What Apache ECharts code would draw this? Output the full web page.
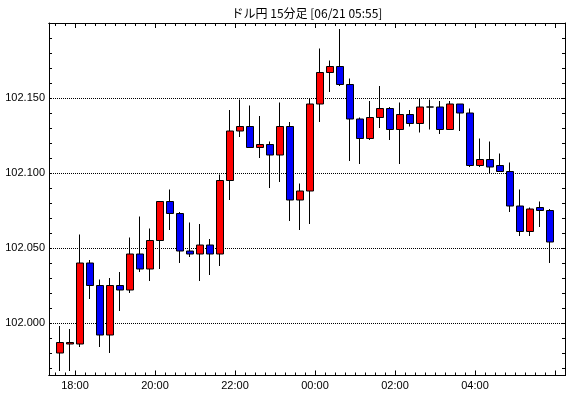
<!DOCTYPE html>
<html>
<head>
<meta charset="utf-8">
<script src="https://cdn.jsdelivr.net/npm/echarts@6/dist/echarts.min.js"></script>
<style>
html, body { margin: 0; padding: 0; background: #fff; }
#chart { width: 570px; height: 398px; }
</style>
</head>
<body>
<div id="chart"></div>
<script>
// 15分足 (06/20 17:30 〜 06/21 05:45)
const times = ['17:30','17:45','18:00','18:15','18:30','18:45','19:00','19:15','19:30','19:45',
    '20:00','20:15','20:30','20:45','21:00','21:15','21:30','21:45','22:00','22:15',
    '22:30','22:45','23:00','23:15','23:30','23:45','00:00','00:15','00:30','00:45',
    '01:00','01:15','01:30','01:45','02:00','02:15','02:30','02:45','03:00','03:15',
    '03:30','03:45','04:00','04:15','04:30','04:45','05:00','05:15','05:30','05:45'];
const opens = [101.980,101.986,101.986,102.040,102.025,101.992,102.025,102.022,102.046,102.036,
    102.055,102.081,102.073,102.048,102.046,102.052,102.046,102.095,102.128,102.131,
    102.117,102.119,102.112,102.131,102.082,102.088,102.146,102.167,102.171,102.159,
    102.136,102.123,102.137,102.143,102.129,102.139,102.133,102.144,102.144,102.129,
    102.146,102.140,102.105,102.109,102.105,102.101,102.078,102.061,102.077,102.075];
const closes = [101.987,101.987,102.040,102.025,101.992,102.025,102.022,102.046,102.036,102.055,
    102.081,102.073,102.048,102.046,102.052,102.046,102.095,102.128,102.131,102.117,
    102.119,102.112,102.131,102.082,102.088,102.146,102.167,102.171,102.159,102.136,
    102.123,102.137,102.143,102.129,102.139,102.133,102.144,102.144,102.129,102.146,
    102.140,102.105,102.109,102.104,102.101,102.078,102.061,102.076,102.075,102.054];
const lows = [101.968,101.968,101.984,102.016,101.984,101.980,102.008,102.020,102.034,102.028,
    102.036,102.062,102.040,102.044,102.028,102.032,102.038,102.082,102.124,102.117,
    102.110,102.090,102.094,102.068,102.062,102.066,102.134,102.154,102.158,102.108,
    102.106,102.122,102.130,102.122,102.106,102.131,102.127,102.129,102.126,102.129,
    102.128,102.104,102.104,102.100,102.101,102.074,102.058,102.058,102.064,102.040];
const highs = [101.998,101.996,102.059,102.042,102.029,102.030,102.034,102.057,102.071,102.063,
    102.081,102.089,102.074,102.067,102.066,102.056,102.099,102.142,102.149,102.145,
    102.138,102.121,102.147,102.134,102.093,102.150,102.183,102.175,102.196,102.163,
    102.137,102.148,102.158,102.144,102.147,102.142,102.150,102.149,102.148,102.148,
    102.146,102.143,102.123,102.121,102.113,102.107,102.089,102.077,102.081,102.076];

// 目盛りラベル
const xTickLabels = ['18:00','20:00','22:00','00:00','02:00','04:00'];
const yTickLabels = ['102.000','102.050','102.100','102.150'];

// 時刻 -> 06/20 0:00 からの分 (12時前は翌日扱い)
function toMin(t) {
    const p = t.split(':');
    let h = +p[0];
    if (h < 12) h += 24;
    return h * 60 + (+p[1]);
}

const X_MIN = 1041, X_MAX = 1815;
const Y_MIN = 101.965, Y_MAX = 102.200;

const candles = times.map(function (t, i) {
    return [toMin(t) + 7.5, opens[i], closes[i], lows[i], highs[i]];
});

// 目盛り位置
const xMinor = [];
for (let m = toMin(times[0]); m <= X_MAX; m += 15) xMinor.push(m);
const xMajor = [];
for (let m = toMin(xTickLabels[0]); m <= X_MAX; m += 120) xMajor.push(m);
const xLabelVals = xTickLabels.map(toMin);
const yMinor = [];
for (let k = 0; k <= 23; k++) yMinor.push(Math.round((101.97 + k * 0.01) * 1000) / 1000);
const yMajor = yTickLabels.map(Number);

function fmtTime(v) {
    const m = Math.round(v) % 1440;
    const h = Math.floor(m / 60), mm = m % 60;
    return (h < 10 ? '0' : '') + h + ':' + (mm < 10 ? '0' : '') + mm;
}

const lineStyle = { color: '#000', width: 1 };
const labelFont = { color: '#000', fontFamily: 'Liberation Sans', fontSize: 11 };

function xAxisDef(pos, ticks, len, labels) {
    return {
        type: 'value', position: pos, min: X_MIN, max: X_MAX,
        axisLine: { show: true, onZero: false, lineStyle: lineStyle },
        axisTick: { show: true, inside: true, length: len, customValues: ticks, lineStyle: lineStyle },
        axisLabel: labels ? Object.assign({ show: true, margin: 5, customValues: labels, formatter: fmtTime }, labelFont) : { show: false },
        splitLine: { show: false }
    };
}

const chart = echarts.init(document.getElementById('chart'));
chart.setOption({
    animation: false,
    backgroundColor: '#fff',
    grid: { left: 49, right: 5, top: 23, bottom: 22.5 },
    graphic: [{
        type: 'text', x: 307, y: 13,
        style: {
            text: 'ドル円 15分足 [06/21 05:55]', align: 'center', verticalAlign: 'middle',
            fill: '#000', font: '12px "Noto Sans CJK JP"'
        }
    }],
    xAxis: [
        xAxisDef('bottom', xMinor, 3, null),
        xAxisDef('bottom', xMajor, 5, xLabelVals),
        xAxisDef('top', xMinor, 3, null),
        xAxisDef('top', xMajor, 5, null)
    ],
    yAxis: [
        {
            type: 'value', position: 'left', min: Y_MIN, max: Y_MAX, scale: true,
            axisLine: { show: true, onZero: false, lineStyle: lineStyle },
            axisTick: { show: true, inside: true, length: 3, customValues: yMinor, lineStyle: lineStyle },
            axisLabel: { show: false },
            splitLine: { show: false }
        },
        {
            type: 'value', position: 'left', min: Y_MIN, max: Y_MAX, scale: true,
            axisLine: { show: false, onZero: false },
            axisTick: { show: false, customValues: yMajor },
            axisLabel: Object.assign({
                show: true, margin: 4, customValues: yMajor,
                formatter: function (v) { return v.toFixed(3); }
            }, labelFont),
            splitLine: { show: true, lineStyle: { color: '#000', width: 1, type: [1, 1] } }
        },
        {
            type: 'value', position: 'right', min: Y_MIN, max: Y_MAX, scale: true,
            axisLine: { show: true, onZero: false, lineStyle: lineStyle },
            axisTick: { show: true, inside: true, length: 3, customValues: yMinor, lineStyle: lineStyle },
            axisLabel: { show: false },
            splitLine: { show: false }
        }
    ],
    series: [{
        type: 'candlestick',
        xAxisIndex: 0,
        yAxisIndex: 0,
        barWidth: 7,
        encode: { x: 0, y: [1, 2, 3, 4] },
        data: candles,
        itemStyle: {
            color: '#ff0000',
            color0: '#0000ff',
            borderColor: '#000',
            borderColor0: '#000',
            borderWidth: 1
        }
    }]
});
</script>
</body>
</html>
